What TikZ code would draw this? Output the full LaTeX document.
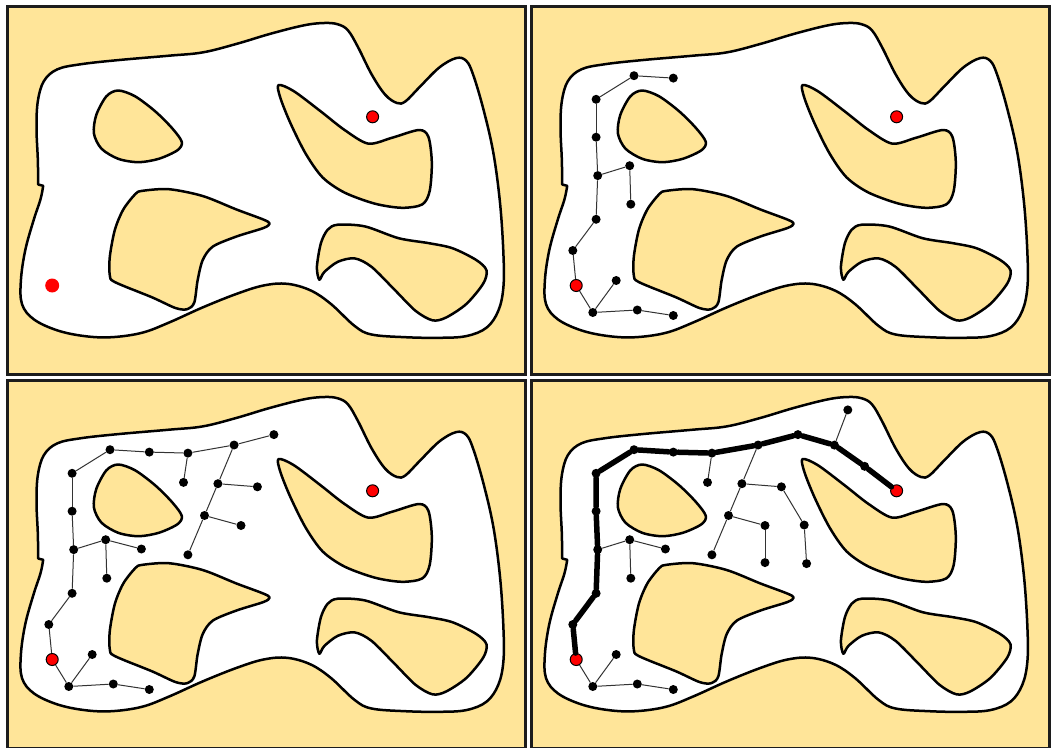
\documentclass[tikz,border=0pt]{standalone}
\usetikzlibrary{positioning}
\definecolor{sand}{RGB}{255,229,153}
\definecolor{rim}{RGB}{28,28,28}

\newcommand{\roadmap}{%
  \draw[frame] (7.5,6.5) rectangle (525.5,374.5);
  \draw[wall, fill=white] plot[smooth, tension=0.6] coordinates {
    (43.2,185.8) (40.5,199.3) (33.8,219.6) (25.3,250) (20.9,280.4) (22,304.1)
    (33.8,319.3) (57.4,330.4) (84.5,336.1) (111.5,337.2) (141.9,332.8) (168.9,322.6)
    (202.7,307.4) (236.5,293.9) (263.5,285.5) (287.2,283.8) (310.8,290.5) (331.1,304.1)
    (354.7,326) (371.6,334.5) (405.4,337.2) (439.2,337.8) (466.2,336.1) (486.5,327.7)
    (498.3,310.8) (503.4,287.2) (503.4,253.4) (500,202.7) (493.2,152) (483.1,108.1)
    (473,74.3) (466.2,60.8) (456.1,58.1) (439.2,67.6) (418.9,87.8) (405.4,101.4)
    (397,103) (385.1,94.6) (371.6,74.3) (358.1,47.3) (348,30.4) (337.8,24.3)
    (324.3,23) (304.1,25.3) (270.3,33.8) (236.5,43.9) (202.7,52.4) (168.9,55.7)
    (118.2,60.1) (81.1,64.2) (57.4,69.3) (43.9,81.1) (37.8,101.4) (36.5,128.4)
    (37.8,158.8) (38.2,182.4)} -- (38.2,184.5) -- cycle;
  \draw[wall, fill=sand] plot[smooth cycle] coordinates {
    (118.2,90.5) (135.1,96.3) (155.4,111.5) (172.3,128.4) (181.8,141.9) (177.4,150.3)
    (158.8,158.8) (138.5,162.2) (118.2,158.8) (101.4,148.6) (93.9,133.4) (96.3,114.9)
    (106.4,96.3)};
  \draw[wall, fill=sand] plot[smooth cycle] coordinates {
    (141.9,190.9) (168.9,189.2) (202.7,196) (236.5,209.5) (263.5,219.6) (269.6,223.6)
    (263.5,228) (236.5,236.5) (212.8,246.6) (202.7,260.1) (197.6,280.4) (194.3,302.4)
    (187.5,309.1) (175.7,308.1) (152,297.3) (114.9,282.1) (109.8,275.3) (109.8,256.8)
    (114.9,229.7) (123.3,209.5) (135.1,194.3)};
  \draw[wall, fill=sand] plot[smooth cycle] coordinates {
    (278.5,85) (293.9,91.2) (320.9,111.5) (344.6,130) (368.2,143.6) (391.9,137.8)
    (418.9,130) (428.4,136.8) (431.8,162.2) (429.7,190.9) (422.3,204.4) (402,207.8)
    (375,203.7) (344.6,192.6) (322.6,177.4) (305.7,153.7) (290.5,123.3) (280.4,98)};
  \draw[wall, fill=sand] plot[smooth cycle] coordinates {
    (337.8,224.7) (364.9,226.4) (398.6,238.2) (429.1,243.2) (452.7,248.3) (476.4,260.1)
    (486.5,270.3) (483.1,283.8) (466.2,304.1) (445.9,317.6) (432.4,320.3) (415.5,310.8)
    (395.3,290.5) (371.6,266.9) (354.7,258.4) (337.8,261.8) (324.3,272) (319.3,279.7)
    (316.9,266.9) (320.9,243.2) (327.7,229.7)};
  \node[tip] (g) at (372.6,116.8) {};
}

\newcommand{\treeone}{%
  \node[tip] (s)   at (52.2,285.5) {};
  \node[vtx] (v1)  at (68.8,312.5) {};
  \node[vtx] (v2)  at (92.2,280.5) {};
  \node[vtx] (v3)  at (113.3,310) {};
  \node[vtx] (v4)  at (149.3,315.5) {};
  \node[vtx] (v5)  at (48.8,250.5) {};
  \node[vtx] (v6)  at (72.1,219.3) {};
  \node[vtx] (v7)  at (73.7,175.6) {};
  \node[vtx] (v8)  at (105.7,165.7) {};
  \node[vtx] (v9)  at (106.8,204.2) {};
  \node[vtx] (v10) at (72.1,137.2) {};
  \node[vtx] (v11) at (72.1,99.3) {};
  \node[vtx] (v12) at (110,75.7) {};
  \node[vtx] (v13) at (149.3,78.1) {};
  \draw[edge] (s) -- (v1);
  \draw[edge] (v1) -- (v2);
  \draw[edge] (v1) -- (v3);
  \draw[edge] (v3) -- (v4);
  \draw[edge] (s) -- (v5);
  \draw[edge] (v5) -- (v6);
  \draw[edge] (v6) -- (v7);
  \draw[edge] (v7) -- (v8);
  \draw[edge] (v8) -- (v9);
  \draw[edge] (v7) -- (v10);
  \draw[edge] (v10) -- (v11);
  \draw[edge] (v11) -- (v12);
  \draw[edge] (v12) -- (v13);
}

\newcommand{\treetwo}{%
  \node[vtx] (v14) at (141.4,175) {};
  \node[vtx] (v15) at (187.9,79.1) {};
  \node[vtx] (v16) at (183.5,108.4) {};
  \node[vtx] (v17) at (234.1,71) {};
  \node[vtx] (v18) at (273.9,60.6) {};
  \node[vtx] (v19) at (217.9,109.7) {};
  \node[vtx] (v20) at (257.4,112.8) {};
  \node[vtx] (v21) at (204.5,141.5) {};
  \node[vtx] (v22) at (241,151.5) {};
  \node[vtx] (v23) at (187.9,180.8) {};
  \draw[edge] (v8) -- (v14);
  \draw[edge] (v13) -- (v15);
  \draw[edge] (v15) -- (v16);
  \draw[edge] (v15) -- (v17);
  \draw[edge] (v17) -- (v18);
  \draw[edge] (v17) -- (v19);
  \draw[edge] (v19) -- (v20);
  \draw[edge] (v19) -- (v21);
  \draw[edge] (v21) -- (v22);
  \draw[edge] (v21) -- (v23);
}

\newcommand{\treethree}{%
  \node[vtx] (v24) at (241,188.6) {};
  \node[vtx] (v25) at (280.2,151) {};
  \node[vtx] (v26) at (282.6,189.6) {};
  \node[vtx] (v27) at (310.4,71.1) {};
  \node[vtx] (v28) at (323.8,35.9) {};
  \node[vtx] (v29) at (340.6,92.3) {};
  \draw[edge] (v22) -- (v24);
  \draw[edge] (v20) -- (v25);
  \draw[edge] (v25) -- (v26);
  \draw[edge] (v18) -- (v27);
  \draw[edge] (v27) -- (v28);
  \draw[edge] (v27) -- (v29);
  \draw[edge] (v29) -- (g);
}

\begin{document}
\begin{tikzpicture}[
    x=1pt, y=-1pt,
    frame/.style={draw=rim, line width=3pt, fill=sand},
    wall/.style={draw=black, line width=2.5pt, line join=round},
    vtx/.style={circle, fill=black, inner sep=0pt, minimum size=9pt},
    tip/.style={circle, fill=red, draw=black, line width=1pt, inner sep=0pt, minimum size=12pt},
    seed/.style={circle, fill=red, inner sep=0pt, minimum size=14pt},
    edge/.style={draw=black!80, line width=1pt},
    route/.style={draw=black, line width=5.5pt, line cap=round},
  ]
  \useasboundingbox (0,0) rectangle (1051,747);

  \begin{scope}
    \roadmap
    \node[seed] (s) at (52.2,285.5) {};
  \end{scope}

  \begin{scope}[shift={(524,0)}]
    \roadmap
    \treeone
  \end{scope}

  \begin{scope}[shift={(0,374)}]
    \roadmap
    \treeone
    \treetwo
  \end{scope}

  \begin{scope}[shift={(524,374)}]
    \roadmap
    \treeone
    \treetwo
    \treethree
    \draw[route] (s) -- (v5) -- (v6) -- (v7) -- (v10) -- (v11) -- (v12) -- (v13)
      -- (v15) -- (v17) -- (v18) -- (v27) -- (v29) -- (g);
  \end{scope}
\end{tikzpicture}
\end{document}
